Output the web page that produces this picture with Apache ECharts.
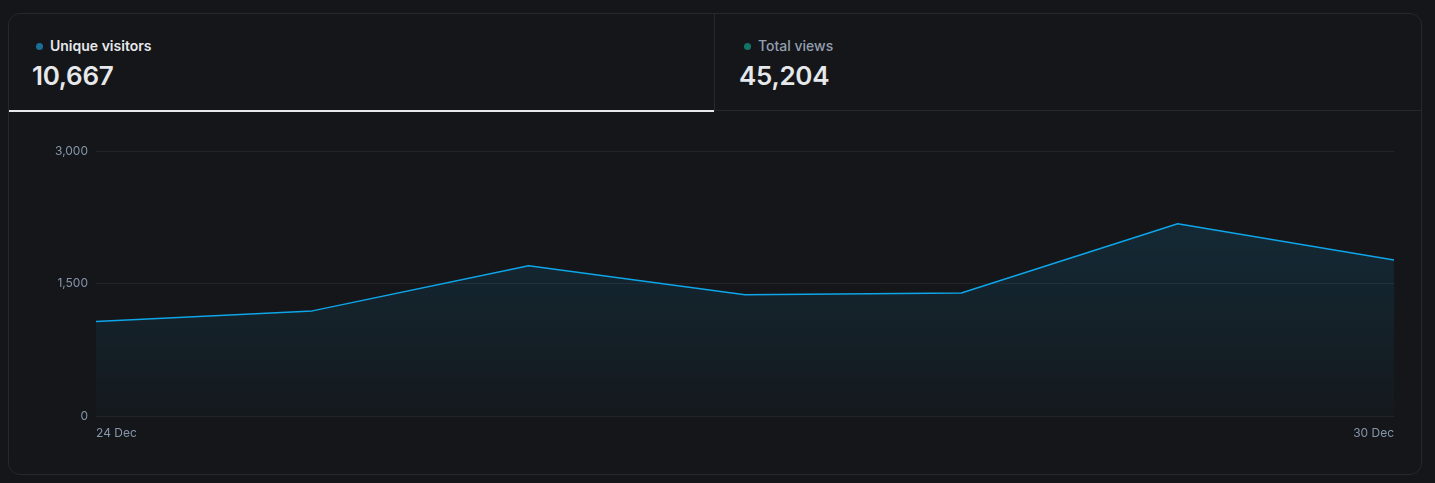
<!DOCTYPE html>
<html><head><meta charset="utf-8">
<script src="https://cdn.jsdelivr.net/npm/echarts@6/dist/echarts.min.js"></script>
<style>
html,body{margin:0;padding:0;background:#151619;width:1435px;height:483px;overflow:hidden;font-family:Inter,"Noto Sans",sans-serif;}
#card{position:absolute;left:8px;top:13px;width:1412px;height:460px;border:1px solid #26282c;border-radius:12px;background:#151619;overflow:hidden;}
.tab{position:absolute;top:0;height:96px;}
#tab1{left:0;width:705px;border-bottom:2px solid #e6e8eb;}
#tab2{left:705px;width:707px;border-left:1px solid #26282c;border-bottom:1px solid #26282c;height:96px;}
.lbl{position:absolute;top:24px;font-size:14px;line-height:16px;white-space:nowrap;}
.dot{display:inline-block;width:7px;height:7px;border-radius:50%;margin-right:7px;vertical-align:1px;}
.num{position:absolute;top:47px;font-size:26px;font-weight:600;line-height:30px;color:#e6e8eb;letter-spacing:-0.3px;}
#chart{position:absolute;left:0;top:97px;width:1412px;height:363px;}
</style></head>
<body>
<div id="card">
  <div class="tab" id="tab1">
    <div class="lbl" style="left:27px;color:#e6e8eb;font-weight:600;"><span class="dot" style="background:#1a6f99"></span>Unique visitors</div>
    <div class="num" style="left:23px;">10,667</div>
  </div>
  <div class="tab" id="tab2">
    <div class="lbl" style="left:29px;color:#939fb0;font-weight:500;"><span class="dot" style="background:#137567"></span>Total views</div>
    <div class="num" style="left:24px;">45,204</div>
  </div>
  <div id="chart"></div>
</div>
<script>
const categories = ["24 Dec","25 Dec","26 Dec","27 Dec","28 Dec","29 Dec","30 Dec"];
const uniqueVisitors = [1070, 1190, 1700, 1372, 1392, 2176, 1767];
const yTicks = [0, 1500, 3000];

const chart = echarts.init(document.getElementById('chart'));
chart.setOption({
  backgroundColor: 'transparent',
  animation: false,
  grid: {left: 87, right: 27, top: 40, bottom: 58},
  xAxis: {
    type: 'category',
    data: categories,
    boundaryGap: false,
    axisLine: {show: false},
    axisTick: {show: false},
    axisLabel: {
      color: '#8596ab', fontSize: 12, fontFamily: 'Inter', margin: 11,
      interval: function(i){ return i === 0 || i === categories.length - 1; },
      alignMinLabel: 'left', alignMaxLabel: 'right'
    }
  },
  yAxis: {
    type: 'value',
    min: yTicks[0], max: yTicks[yTicks.length-1], interval: yTicks[1]-yTicks[0],
    axisLine: {show: false},
    axisTick: {show: false},
    axisLabel: {
      color: '#8596ab', fontSize: 12, fontFamily: 'Inter', margin: 8,
      formatter: v => v.toLocaleString('en-US')
    },
    splitLine: {lineStyle: {color: '#222429', width: 1}}
  },
  series: [{
    type: 'line',
    data: uniqueVisitors,
    showSymbol: false,
    lineStyle: {color: '#0ea5e9', width: 1.5},
    areaStyle: {
      color: new echarts.graphic.LinearGradient(0,0,0,1,[
        {offset:0, color:'rgba(14,165,233,0.2)'},
        {offset:1, color:'rgba(14,165,233,0.03)'}
      ]),
      origin: 'start'
    }
  }]
});
</script>
</body></html>
